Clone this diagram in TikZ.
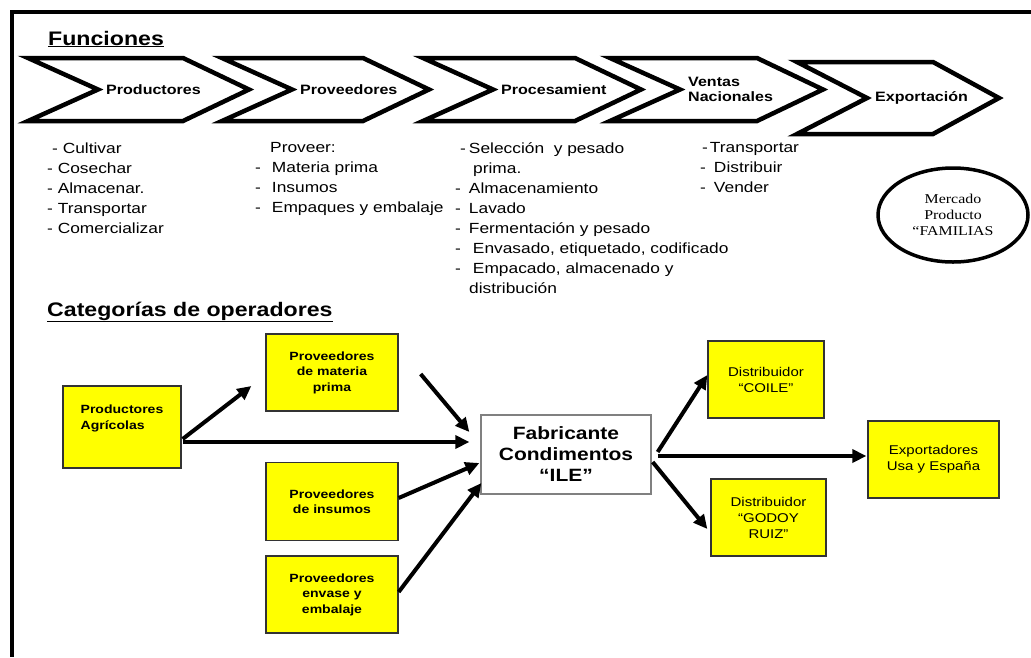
\documentclass[tikz,border=0pt]{standalone}
\usepackage{fontspec}
\setmainfont{Liberation Sans}[FakeStretch=1.18]
\newfontfamily\mercadofont{Liberation Serif}[FakeStretch=1.18]
\usetikzlibrary{arrows.meta,shapes.geometric}
\definecolor{boxyellow}{HTML}{FFFF00}
\definecolor{boxline}{HTML}{333333}
\begin{document}
\begin{tikzpicture}[
  x=1pt, y=-1pt,
  chevron/.style = {line width=4.5pt, line join=miter},
  chevlabel/.style = {anchor=west, inner sep=0pt, align=left, font=\bfseries\fontsize{13.6}{15}\selectfont},
  heading/.style = {anchor=base west, inner sep=0pt, font=\bfseries\fontsize{19.6}{22}\selectfont},
  listtext/.style = {anchor=north west, inner sep=0pt, align=left, font=\fontsize{14.7}{20}\selectfont},
  opbox/.style = {draw=boxline, fill=boxyellow, line width=1.3pt, inner sep=0pt,
                  minimum height=77pt, align=center, font=\bfseries\fontsize{11.9}{15.5}\selectfont},
  distbox/.style = {opbox, font=\fontsize{12.7}{16}\selectfont},
  flow/.style = {line width=4pt, -{Triangle[length=14pt,width=13pt]}}
]
  \useasboundingbox (0,0) rectangle (1031,657);
  % frame
  \draw[line width=3.5pt] (10,12) -- (1031,12);
  \draw[line width=3.5pt] (12,12) -- (12,657);

  \node[heading] (hfunc) at (48,45) {\underline{Funciones}};

  % chevrons of the functions
  \foreach \lx/\rx/\ty/\by/\nm/\txt in {28/183/58/121/chprod/Productores,
      222/363/58/121/chprov/Proveedores,
      423/575/58/121/chproc/Procesamient,
      610/757/58/121/chvent/{Ventas\\Nacionales},
      797/933/62/134/chexpo/Exportación}{
    \pgfmathsetmacro\my{(\ty+\by)/2}
    \draw[chevron] (\lx,\ty) -- (\rx,\ty) -- (\rx+66,\my) -- (\rx,\by)
      -- (\lx,\by) -- (\lx+70,\my) -- cycle;
    \node[chevlabel] (\nm) at (\lx+78,\my) {\txt};
  }

  % lists under each function
  \node[listtext] (lprod) at (47,142.5) {\hspace*{5pt}- Cultivar\\- Cosechar\\- Almacenar.\\
    - Transportar\\- Comercializar};
  \node[listtext] (lprov) at (255,142.5) {\hspace*{15pt}Proveer:\\-\hspace*{11pt}Materia prima\\
    -\hspace*{11pt}Insumos\\-\hspace*{11pt}Empaques y embalaje};
  \node[listtext] (lproc) at (455,142.5) {\hspace*{5pt}-\hspace*{3pt}Selección\ \ y pesado\\
    \hspace*{18pt}prima.\\-\hspace*{8pt}Almacenamiento\\-\hspace*{8pt}Lavado\\
    -\hspace*{8pt}Fermentación y pesado\\-\hspace*{12pt}Envasado, etiquetado, codificado\\
    -\hspace*{12pt}Empacado, almacenado y\\\hspace*{14pt}distribución};
  \node[listtext] (lvent) at (700,142.5) {\hspace*{2pt}-\hspace*{2pt}Transportar\\
    -\hspace*{8pt}Distribuir\\-\hspace*{8pt}Vender};

  \node[ellipse, draw, line width=3.5pt, minimum width=150pt, minimum height=94pt,
        inner sep=0pt, align=center, font=\mercadofont\fontsize{13.5}{16}\selectfont]
        (mercado) at (953,215) {Mercado\\Producto\\“FAMILIAS};

  \node[heading] (hcat) at (47,316) {\underline{Categorías de operadores}};

  % operators
  \node[opbox, minimum width=118pt, minimum height=82pt, align=left] (agri) at (122,427)
        {Productores\\Agrícolas\\[4pt]};
  \node[opbox, minimum width=132pt] (materia) at (332,372.5) {Proveedores\\de materia\\prima};
  \node[opbox, minimum width=132pt, minimum height=78pt] (insumos) at (332,501.5)
        {Proveedores\\de insumos};
  \node[opbox, minimum width=132pt] (envase) at (332,594.5) {Proveedores\\envase y\\embalaje};
  \node[opbox, fill=white, draw=gray, minimum width=170pt, minimum height=79pt,
        font=\bfseries\fontsize{17.8}{21}\selectfont] (fab) at (566,454.5)
        {Fabricante\\Condimentos\\“ILE”};
  \node[distbox, minimum width=116pt] (coile) at (766,379.5) {Distribuidor\\“COILE”};
  \node[distbox, minimum width=115pt] (godoy) at (768.5,517.5) {Distribuidor\\“GODOY\\RUIZ”};
  \node[distbox, minimum width=131pt] (export) at (933.5,459.5) {Exportadores\\Usa y España};

  % flows
  \draw[flow] ([shift={(1,12)}]agri.east) -- ([shift={(-14,13.5)}]materia.west);
  \draw[flow] ([shift={(1,15)}]agri.east) -- ([shift={(-11,-12.5)}]fab.west);
  \draw[flow] ([shift={(22,1.5)}]materia.east) -- ([shift={(-11,-22.5)}]fab.west);
  \draw[flow] ([shift={(0,-3.5)}]insumos.east) -- ([shift={(-1,8.5)}]fab.west);
  \draw[flow] ([shift={(0,-2.5)}]envase.east) -- ([shift={(1,28.5)}]fab.west);
  \draw[flow] ([shift={(6,-2.5)}]fab.east) -- ([shift={(0,-4.5)}]coile.west);
  \draw[flow] ([shift={(6,1.5)}]fab.east) -- ([shift={(-1,-3.5)}]export.west);
  \draw[flow] ([shift={(1,7.5)}]fab.east) -- ([shift={(-3,11.5)}]godoy.west);
\end{tikzpicture}
\end{document}
